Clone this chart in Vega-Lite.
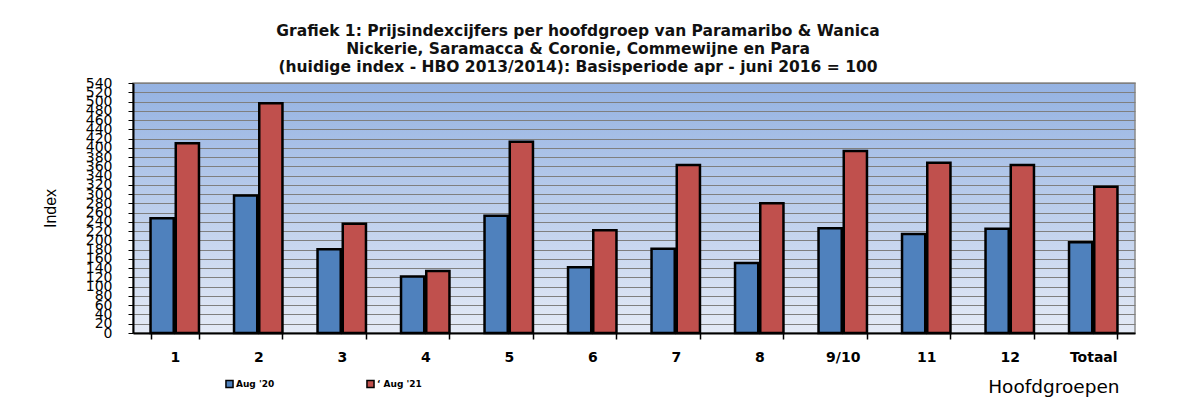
{
  "$schema": "https://vega.github.io/schema/vega-lite/v6.json",
  "autosize": {"type": "none"},
  "padding": {"left": 133, "top": 83, "right": 52, "bottom": 70},
  "width": 1002,
  "height": 250,
  "background": "white",
  "title": {
    "text": ["Grafiek 1: Prijsindexcijfers per hoofdgroep van Paramaribo & Wanica", "Nickerie, Saramacca & Coronie, Commewijne en Para", "(huidige index - HBO 2013/2014):  Basisperiode apr - juni 2016 = 100"],
    "anchor": "middle",
    "dx": -56,
    "font": "DejaVu Sans",
    "fontSize": 15.5,
    "fontWeight": "bold",
    "lineHeight": 18,
    "offset": 1,
    "color": "#111"
  },
  "config": {
    "view": {
      "fill": {"gradient": "linear", "x1": 0, "y1": 0, "x2": 0, "y2": 1, "stops": [{"offset": 0, "color": "#94b2e2"}, {"offset": 1, "color": "#e4eaf6"}]},
      "stroke": "#8a8a8a",
      "strokeWidth": 1.5
    },
    "font": "Liberation Sans"
  },
  "data": {
    "values": [
      {"groep": "1", "periode": "Aug '20", "index": 248},
      {"groep": "1", "periode": "‘ Aug '21", "index": 410},
      {"groep": "2", "periode": "Aug '20", "index": 297},
      {"groep": "2", "periode": "‘ Aug '21", "index": 496},
      {"groep": "3", "periode": "Aug '20", "index": 181},
      {"groep": "3", "periode": "‘ Aug '21", "index": 236},
      {"groep": "4", "periode": "Aug '20", "index": 122},
      {"groep": "4", "periode": "‘ Aug '21", "index": 134},
      {"groep": "5", "periode": "Aug '20", "index": 253},
      {"groep": "5", "periode": "‘ Aug '21", "index": 413},
      {"groep": "6", "periode": "Aug '20", "index": 142},
      {"groep": "6", "periode": "‘ Aug '21", "index": 222},
      {"groep": "7", "periode": "Aug '20", "index": 182},
      {"groep": "7", "periode": "‘ Aug '21", "index": 363},
      {"groep": "8", "periode": "Aug '20", "index": 151},
      {"groep": "8", "periode": "‘ Aug '21", "index": 280},
      {"groep": "9/10", "periode": "Aug '20", "index": 226},
      {"groep": "9/10", "periode": "‘ Aug '21", "index": 393},
      {"groep": "11", "periode": "Aug '20", "index": 214},
      {"groep": "11", "periode": "‘ Aug '21", "index": 368},
      {"groep": "12", "periode": "Aug '20", "index": 225},
      {"groep": "12", "periode": "‘ Aug '21", "index": 363},
      {"groep": "Totaal", "periode": "Aug '20", "index": 196},
      {"groep": "Totaal", "periode": "‘ Aug '21", "index": 316}
    ]
  },
  "mark": {"type": "bar", "stroke": "#000", "strokeWidth": 2.5},
  "encoding": {
    "x": {
      "field": "groep",
      "type": "nominal",
      "sort": null,
      "scale": {"paddingInner": 0.42, "paddingOuter": 0.21},
      "axis": {
        "title": "Hoofdgroepen",
        "titleAnchor": "end",
        "titleAlign": "right",
        "titleX": 986,
        "titleY": 59,
        "titleBaseline": "alphabetic",
        "titleFontSize": 18.5,
        "titleFontWeight": 500,
        "titleFont": "DejaVu Sans",
        "titleColor": "#000",
        "labelAngle": 0,
        "labelFontSize": 14,
        "labelFontWeight": "bold",
        "labelFont": "DejaVu Sans",
        "labelColor": "#000",
        "labelPadding": 11,
        "tickBand": "extent",
        "tickColor": "#000",
        "tickSize": 6,
        "tickWidth": 1.5,
        "domainColor": "#000",
        "domainWidth": 2
      }
    },
    "y": {
      "field": "index",
      "type": "quantitative",
      "scale": {"domain": [0, 540], "nice": false},
      "axis": {
        "title": "Index",
        "titleX": -83,
        "titleY": 125,
        "titleAngle": -90,
        "titleAlign": "center",
        "titleBaseline": "middle",
        "titleFontSize": 16,
        "titleFontWeight": "normal",
        "titleColor": "#000",
        "values": [0,20,40,60,80,100,120,140,160,180,200,220,240,260,280,300,320,340,360,380,400,420,440,460,480,500,520,540],
        "labelOverlap": false,
        "labelBound": false,
        "labelFlush": false,
        "labelFontSize": 14,
        "labelFontWeight": "normal",
        "labelFont": "DejaVu Sans",
        "labelColor": "#000",
        "labelPadding": 16,
        "tickSize": 5,
        "tickColor": "#000",
        "domainColor": "#000",
        "domainWidth": 2,
        "grid": true,
        "gridColor": "#7f7f7f",
        "gridWidth": 1
      }
    },
    "xOffset": {"field": "periode", "type": "nominal", "scale": {"paddingInner": 0.08}},
    "color": {
      "field": "periode",
      "type": "nominal",
      "scale": {"range": ["#4f81bd", "#c0504d"]},
      "legend": {
        "title": null,
        "orient": "none",
        "legendX": 92,
        "legendY": 296,
        "direction": "horizontal",
        "symbolType": "square",
        "symbolSize": 50,
        "symbolStrokeColor": "#000",
        "symbolStrokeWidth": 1.5,
        "labelFontSize": 9,
        "labelFontWeight": "bold",
        "labelFont": "DejaVu Sans",
        "labelColor": "#000",
        "labelOffset": 2,
        "columnPadding": 88
      }
    }
  }
}
